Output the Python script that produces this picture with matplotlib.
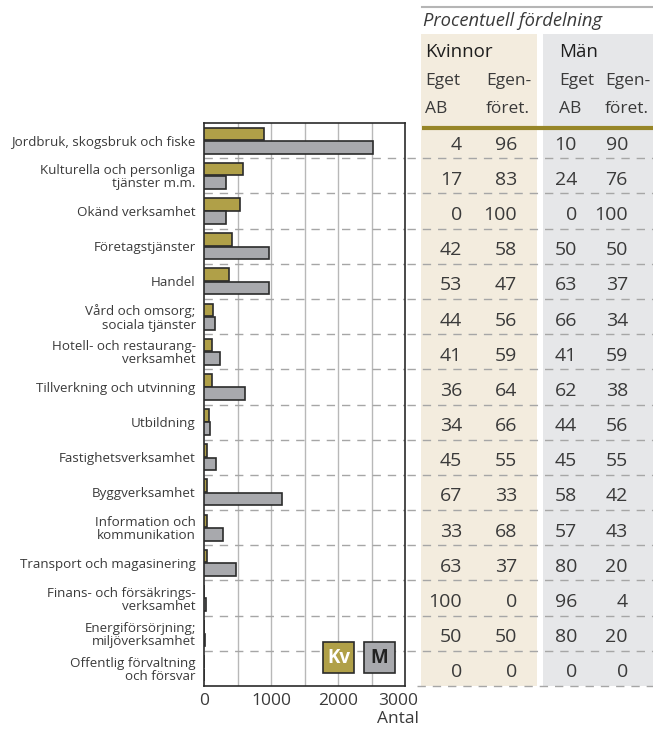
import numpy as np
import matplotlib
matplotlib.use("Agg")
import matplotlib.pyplot as plt
from matplotlib.patches import Rectangle
import matplotlib.transforms as mtransforms

plt.rcParams['font.family'] = ['Open Sans', 'DejaVu Sans']

# Data
kategorier = ["Jordbruk, skogsbruk och fiske",
              "Kulturella och personliga\ntjänster m.m.",
              "Okänd verksamhet",
              "Företagstjänster",
              "Handel",
              "Vård och omsorg;\nsociala tjänster",
              "Hotell- och restaurang-\nverksamhet",
              "Tillverkning och utvinning",
              "Utbildning",
              "Fastighetsverksamhet",
              "Byggverksamhet",
              "Information och\nkommunikation",
              "Transport och magasinering",
              "Finans- och försäkrings-\nverksamhet",
              "Energiförsörjning;\nmiljöverksamhet",
              "Offentlig förvaltning\noch försvar"]
kvinnor = [890, 575, 530, 425, 370, 140, 125, 125, 70, 50, 40, 40, 40, 5, 3, 0]
man = [2520, 325, 325, 970, 970, 165, 245, 610, 95, 180, 1165, 280, 475, 30, 20, 0]

kv_eget = [4, 17, 0, 42, 53, 44, 41, 36, 34, 45, 67, 33, 63, 100, 50, 0]
kv_egen = [96, 83, 100, 58, 47, 56, 59, 64, 66, 55, 33, 68, 37, 0, 50, 0]
m_eget = [10, 24, 0, 50, 63, 66, 41, 62, 44, 45, 58, 57, 80, 96, 80, 0]
m_egen = [90, 76, 100, 50, 37, 34, 59, 38, 56, 55, 42, 43, 20, 4, 20, 0]

xticks = [0, 1000, 2000, 3000]

# Colors
c_kv = '#b0a048'
c_m = '#a8a9ad'
c_edge = '#2b2b2b'
c_txt = '#3a3a3a'
c_beige = '#f3ecde'
c_grey = '#e6e7e9'
c_olive = '#978628'
c_dash = '#a6a6a6'

W, H = 653, 731
fig = plt.figure(figsize=(W / 100, H / 100), dpi=100)

# bar axes in pixel coords
x0, x1 = 204, 405
y_top, y_bot = 123, 686
ax = fig.add_axes([x0 / W, 1 - y_bot / H, (x1 - x0) / W, (y_bot - y_top) / H])

n = len(kategorier)
pos = np.arange(n) + 0.5
bh = 0.36
ax.barh(pos - 0.19, kvinnor, height=bh, color=c_kv, edgecolor=c_edge, linewidth=1.2, zorder=3)
ax.barh(pos + 0.19, man, height=bh, color=c_m, edgecolor=c_edge, linewidth=1.2, zorder=3)

ax.set_ylim(n, 0)
ax.set_xlim(0, 3000)
ax.set_xticks(xticks)
ax.set_xticklabels([str(t) for t in xticks], fontsize=12.5, color=c_txt)
ax.set_yticks(pos)
ax.set_yticklabels(kategorier, fontsize=9.6, color=c_txt, linespacing=1.0)
ax.tick_params(length=0, pad=5)
ax.tick_params(axis='y', pad=6)
# last tick label pulled left so it fits
lbl = ax.get_xticklabels()[-1]
lbl.set_transform(lbl.get_transform() + mtransforms.ScaledTranslation(-7 / 100, 0, fig.dpi_scale_trans))
for v in [500, 1000, 1500, 2000, 2500]:
    ax.axvline(v, color='#b8b8b8', lw=1, zorder=1)
for i in range(1, n):
    ax.axhline(i, color=c_dash, lw=1, dashes=(6, 5), zorder=2)
for s in ax.spines.values():
    s.set_color(c_edge)
    s.set_linewidth(1.2)
ax.text(2897, 16.95, "Antal", ha='center', va='center', fontsize=12.5, color=c_txt,
        clip_on=False)

# legend boxes
for xl, lab, fc, tc in [(1777, "Kv", c_kv, 'white'), (2389, "M", c_m, '#222222')]:
    ax.add_patch(Rectangle((xl, 14.75), 463, 0.88, fc=fc, ec=c_edge, lw=1.2, zorder=5))
    ax.text(xl + 231, 15.2, lab, ha='center', va='center', fontsize=13.5,
            fontweight='bold', color=tc, zorder=6)

# table overlay in pixel coordinates
tx = fig.add_axes([0, 0, 1, 1], zorder=-1)
tx.set_xlim(0, W)
tx.set_ylim(H, 0)
tx.axis('off')
rh = (y_bot - y_top) / n

tx.add_patch(Rectangle((421, 34), 116, y_bot - 34, fc=c_beige, ec='none'))
tx.add_patch(Rectangle((543, 34), 110, y_bot - 34, fc=c_grey, ec='none'))
tx.plot([422, 653], [7, 7], color='#b5b5b5', lw=1.5)
tx.plot([422, 653], [127.5, 127.5], color=c_olive, lw=3, solid_capstyle='butt')
for i in range(1, n + 1):
    y = y_top + i * rh
    tx.plot([407 if i < n else 417, 653], [y, y], color=c_dash, lw=1, dashes=(6, 5))

tx.text(423, 21, "Procentuell fördelning", fontsize=13.2, style='italic', color=c_txt,
        ha='left', va='center')
tx.text(425, 52, "Kvinnor", fontsize=13.5, color='#1e1e1e', ha='left', va='center')
tx.text(559, 52, "Män", fontsize=13.5, color='#1e1e1e', ha='left', va='center')
for xx, a, b in [(425, "Eget", "AB"), (486, "Egen-", "föret."),
                 (559, "Eget", "AB"), (605, "Egen-", "föret.")]:
    tx.text(xx, 81, a, fontsize=12.5, color=c_txt, ha='left', va='center')
    tx.text(xx, 109, b, fontsize=12.5, color=c_txt, ha='left', va='center')

cols = [(462, kv_eget), (517, kv_egen), (577, m_eget), (628, m_egen)]
for i in range(n):
    y = y_top + (i + 0.5) * rh + 4
    for xx, vals in cols:
        tx.text(xx, y, str(vals[i]), fontsize=14, color=c_txt, ha='right', va='center')

fig.savefig("out.png", dpi=100)
